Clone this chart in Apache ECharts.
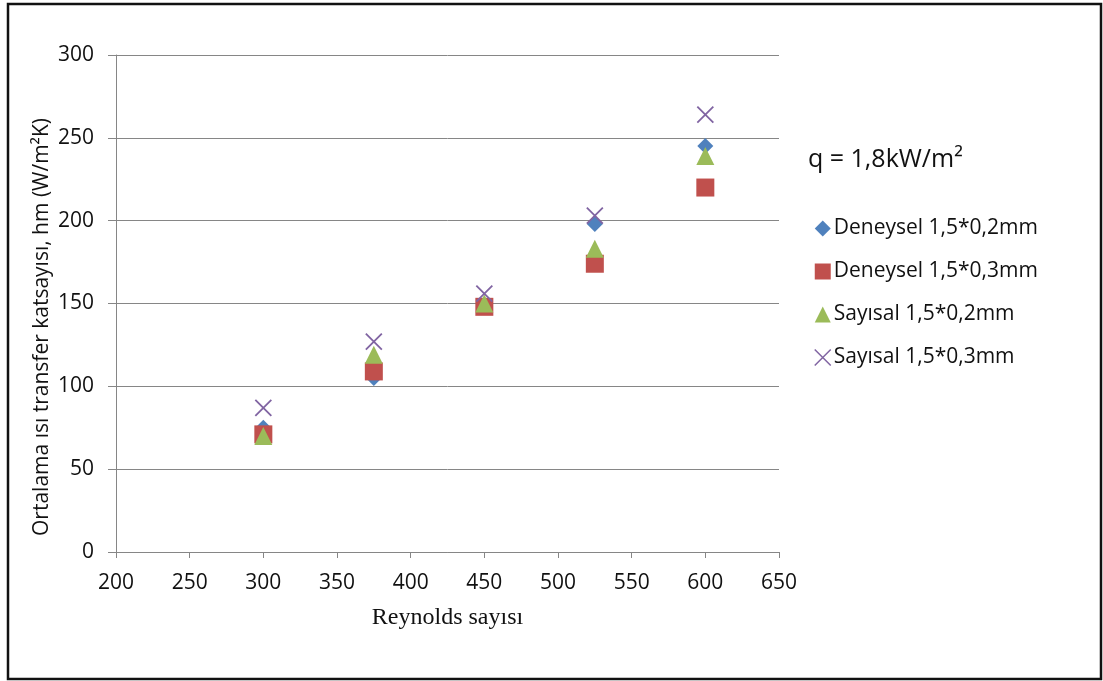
<!DOCTYPE html>
<html><head><meta charset="utf-8">
<script src="https://cdn.jsdelivr.net/npm/echarts@6/dist/echarts.min.js"></script>
<style>html,body{margin:0;padding:0;background:#fff}#c{width:1103px;height:681px}</style>
</head><body><div id="c"></div>
<script>
var reynolds = [300, 375, 450, 525, 600];
var deneysel02 = [75, 105, 148, 198, 245];
var deneysel03 = [71, 109, 148, 174, 220];
var sayisal02 = [70, 119, 150, 183, 239];
var sayisal03 = [87, 127, 156, 203, 264];
var seriesNames = ['Deneysel 1,5*0,2mm','Deneysel 1,5*0,3mm','Sayısal 1,5*0,2mm','Sayısal 1,5*0,3mm'];
var xTicks = [200,250,300,350,400,450,500,550,600,650];
var yTicks = [0,50,100,150,200,250,300];
var yTitle = 'Ortalama ısı transfer katsayısı, hm (W/m²K)';

function pairs(v){ return reynolds.map(function(x,i){return [x, v[i]];}); }
var font = 'Open Sans';
var xPath = 'path://M0,0L10,10M10,0L0,10';
var chart = echarts.init(document.getElementById('c'));
chart.setOption({
  animation:false,
  backgroundColor:'#fff',
  graphic:[
    {type:'rect', shape:{x:8,y:4,width:1093,height:675}, style:{fill:'none', stroke:'#111', lineWidth:2.5}, z:-1},
    {type:'text', left:808, top:147, style:{text:'q = 1,8kW/m²', font:'25px "Open Sans"', fill:'#111'}},
    {type:'text', x:42, y:327, rotation:Math.PI/2, style:{text:yTitle, font:'21px "Open Sans"', fill:'#111', align:'center', verticalAlign:'middle'}}
  ],
  grid:{left:116, right:324, top:55, bottom:129, containLabel:false},
  legend:{
    orient:'vertical', left:809, top:213, itemGap:22, itemWidth:16, itemHeight:16,
    textStyle:{fontFamily:font, fontSize:21, color:'#111', padding:[0,0,0,-2]},
    data:[
      {name:seriesNames[0], icon:'diamond'},
      {name:seriesNames[1], icon:'rect'},
      {name:seriesNames[2], icon:'triangle'},
      {name:seriesNames[3], icon:xPath, itemStyle:{color:'transparent', borderColor:'#8064A2', borderWidth:1.5}}
    ]
  },
  xAxis:{
    type:'value', min:200, max:650, interval:50,
    name:'Reynolds sayısı', nameLocation:'middle', nameGap:54,
    nameTextStyle:{fontFamily:'Liberation Serif', fontSize:24, color:'#111'},
    axisLine:{show:true, lineStyle:{color:'#868686', width:1}},
    axisTick:{show:true, inside:false, length:6, lineStyle:{color:'#868686'}},
    axisLabel:{fontFamily:font, fontSize:21, color:'#111', margin:21},
    splitLine:{show:false}
  },
  yAxis:{
    type:'value', min:0, max:300, interval:50,
    axisLine:{show:true, lineStyle:{color:'#868686', width:1}},
    axisTick:{show:true, inside:false, length:8, lineStyle:{color:'#868686'}},
    axisLabel:{fontFamily:font, fontSize:21, color:'#111', margin:22},
    splitLine:{show:true, lineStyle:{color:'#868686', width:1}}
  },
  series:[
    {name:seriesNames[0], type:'scatter', symbol:'diamond', symbolSize:16, data:pairs(deneysel02), itemStyle:{color:'#4F81BD', opacity:1}},
    {name:seriesNames[1], type:'scatter', symbol:'rect', symbolSize:18, data:pairs(deneysel03), itemStyle:{color:'#C0504D', opacity:1}},
    {name:seriesNames[2], type:'scatter', symbol:'triangle', symbolSize:18, data:pairs(sayisal02), itemStyle:{color:'#9BBB59', opacity:1}},
    {name:seriesNames[3], type:'scatter', symbol:xPath, symbolSize:16, data:pairs(sayisal03), itemStyle:{color:'transparent', borderColor:'#8064A2', borderWidth:1.8, opacity:1}}
  ]
});
</script></body></html>
